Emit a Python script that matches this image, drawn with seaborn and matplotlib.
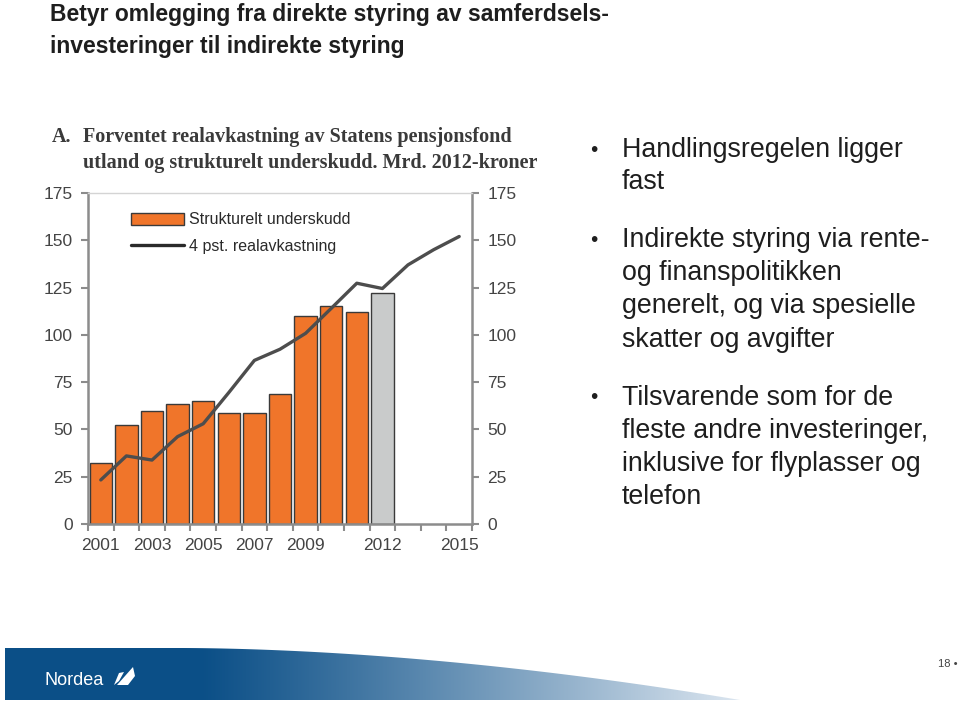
import numpy as np
import pandas as pd
import matplotlib
matplotlib.use("Agg")
import matplotlib.pyplot as plt
from matplotlib.patches import Patch, Polygon
from matplotlib.lines import Line2D
import seaborn as sns

# Data (Mrd. 2012-kroner)
bar_years = [2001, 2002, 2003, 2004, 2005, 2006, 2007, 2008, 2009, 2010, 2011, 2012]
deficit = [32, 52.5, 59.6, 63.5, 64.9, 58.7, 58.7, 68.6, 110, 115, 112.3, 122]
bar_kind = ["Strukturelt underskudd"] * 11 + ["Anslag"]

line_years = list(range(2001, 2016))
real_return = [23.3, 36, 33.8, 46.2, 53, 69.5, 86.5, 92.4, 100.8, 114,
               127.3, 124.5, 137, 145, 152]

x_labels = [2001, 2003, 2005, 2007, 2009, 2012, 2015]
y_ticks = [0, 25, 50, 75, 100, 125, 150, 175]

slide_title = ["Betyr omlegging fra direkte styring av samferdsels-",
               "investeringer til indirekte styring"]
bullets = [
    ["Handlingsregelen ligger", "fast"],
    ["Indirekte styring via rente-", "og finanspolitikken",
     "generelt, og via spesielle", "skatter og avgifter"],
    ["Tilsvarende som for de", "fleste andre investeringer,",
     "inklusive for flyplasser og", "telefon"],
]

W, H = 960, 702
sns.set_theme(style="white")
plt.rcParams["font.family"] = ["Liberation Sans", "DejaVu Sans"]

fig = plt.figure(figsize=(W / 100, H / 100), dpi=100)
fig.patch.set_facecolor("white")


def fx(x):
    return x / W


def fy(y):
    return 1 - y / H


# ---- chart ----
ax = fig.add_axes([fx(88), fy(524), fx(472) - fx(88), fy(193) - fy(524)])
bars = pd.DataFrame({"year": bar_years, "value": deficit, "kind": bar_kind})
sns.barplot(data=bars, x="year", y="value", hue="kind", native_scale=True,
            dodge=False, width=0.87, saturation=1,
            palette={"Strukturelt underskudd": "#f0752a", "Anslag": "#c9cbcb"},
            edgecolor="#3a3a3a", linewidth=1.0, legend=False, ax=ax)
line = pd.DataFrame({"year": line_years, "value": real_return})
sns.lineplot(data=line, x="year", y="value", color="#4d4d4d", linewidth=2.4,
             ax=ax)

ax.set_xlim(2000.5, 2015.5)
ax.set_ylim(0, 175)
ax.set_xlabel("")
ax.set_ylabel("")
ax.set_yticks(y_ticks)
ax.set_xticks(np.arange(2000.5, 2016, 1))
ax.set_xticklabels([])
ax.set_xticks(x_labels, minor=True)
ax.set_xticklabels([str(y) for y in x_labels], minor=True)
grey = "#8c8c8c"
for side in ["left", "right", "bottom"]:
    ax.spines[side].set_visible(True)
    ax.spines[side].set_color(grey)
    ax.spines[side].set_linewidth(1.8)
ax.spines["top"].set_visible(True)
ax.spines["top"].set_color("#d4d4d4")
ax.spines["top"].set_linewidth(1.0)
ax.tick_params(axis="y", which="major", left=True, right=True, labelleft=True,
               labelright=True, direction="out", length=5, width=1.5,
               color=grey, labelsize=12.5, labelcolor="#444444", pad=6)
ax.tick_params(axis="x", which="major", bottom=True, direction="out",
               length=5, width=1.5, color=grey)
ax.tick_params(axis="x", which="minor", bottom=True, length=0,
               labelsize=12.5, labelcolor="#444444", pad=10)

handles = [Patch(facecolor="#f0752a", edgecolor="#3a3a3a", linewidth=1.0),
           Line2D([], [], color="#2a2a2a", linewidth=2.4)]
ax.legend(handles, ["Strukturelt underskudd", "4 pst. realavkastning"],
          loc="upper left", bbox_to_anchor=(0.075, 0.985), frameon=False,
          fontsize=11.5, handlelength=3.3, handleheight=0.8, handletextpad=0.3,
          labelspacing=0.75, labelcolor="#2a2a2a")

# chart title (serif, as in the source figure)
serif = dict(fontsize=14.5, fontweight="bold", family="Liberation Serif",
             color="#3a3a3a", va="center")
fig.text(fx(52), fy(137), "A.", **serif)
fig.text(fx(83), fy(137), "Forventet realavkastning av Statens pensjonsfond",
         **serif)
fig.text(fx(83), fy(163), "utland og strukturelt underskudd. Mrd. 2012-kroner",
         **serif)

# slide title
for i, t in enumerate(slide_title):
    fig.text(fx(50), fy(15 + 32 * i), t, fontsize=16.5, fontweight="bold",
             color="#1e1e1e", va="center")

# bullets
para_y = [[150, 182], [240, 273, 306, 340], [398, 431, 464, 497]]
for lines, ys in zip(bullets, para_y):
    fig.text(fx(594), fy(ys[0]), "•", fontsize=15, color="#1e1e1e",
             va="center", ha="center")
    for t, y in zip(lines, ys):
        fig.text(fx(622), fy(y), t, fontsize=19.3, color="#1e1e1e", va="center")

# ---- footer band ----
fax = fig.add_axes([0, 0, 1, fy(640)])
fax.set_xlim(0, W)
fax.set_ylim(702, 640)
fax.axis("off")
xs = np.linspace(0, W, 960)
dark = np.array([11, 79, 135]) / 255
light = np.array([220, 230, 240]) / 255
t = np.clip((xs - 200) / 540, 0, 1) ** 1.1
grad = dark[None, :] * (1 - t[:, None]) + light[None, :] * t[:, None]
img = np.repeat(grad[None, :, :], 2, axis=0)
im = fax.imshow(img, extent=(0, W, 702, 640), aspect="auto", zorder=1)
cx = np.linspace(5, 740, 120)
cy = 648 + 52 * np.clip((cx - 180) / 560, 0, 1) ** 1.8
verts = [(5, 700)] + list(zip(cx, cy)) + [(740, 700)]
clip = Polygon(verts, closed=True, transform=fax.transData,
               facecolor="none", edgecolor="none")
fax.add_patch(clip)
im.set_clip_path(clip)
fax.text(44, 680, "Nordea", color="white", fontsize=13, va="center",
         family="Liberation Sans", zorder=3)
fax.add_patch(Polygon([(117, 685), (133, 667), (135, 676), (128, 685)],
                      closed=True, facecolor="white", edgecolor="none", zorder=3))
fax.add_patch(Polygon([(114, 685), (119, 673), (124, 672), (119, 681)],
                      closed=True, facecolor="white", edgecolor="none", zorder=3))
fig.text(fx(938), fy(664), "18 •", fontsize=8, color="#444444", va="center")

fig.savefig("out.png", dpi=100)
